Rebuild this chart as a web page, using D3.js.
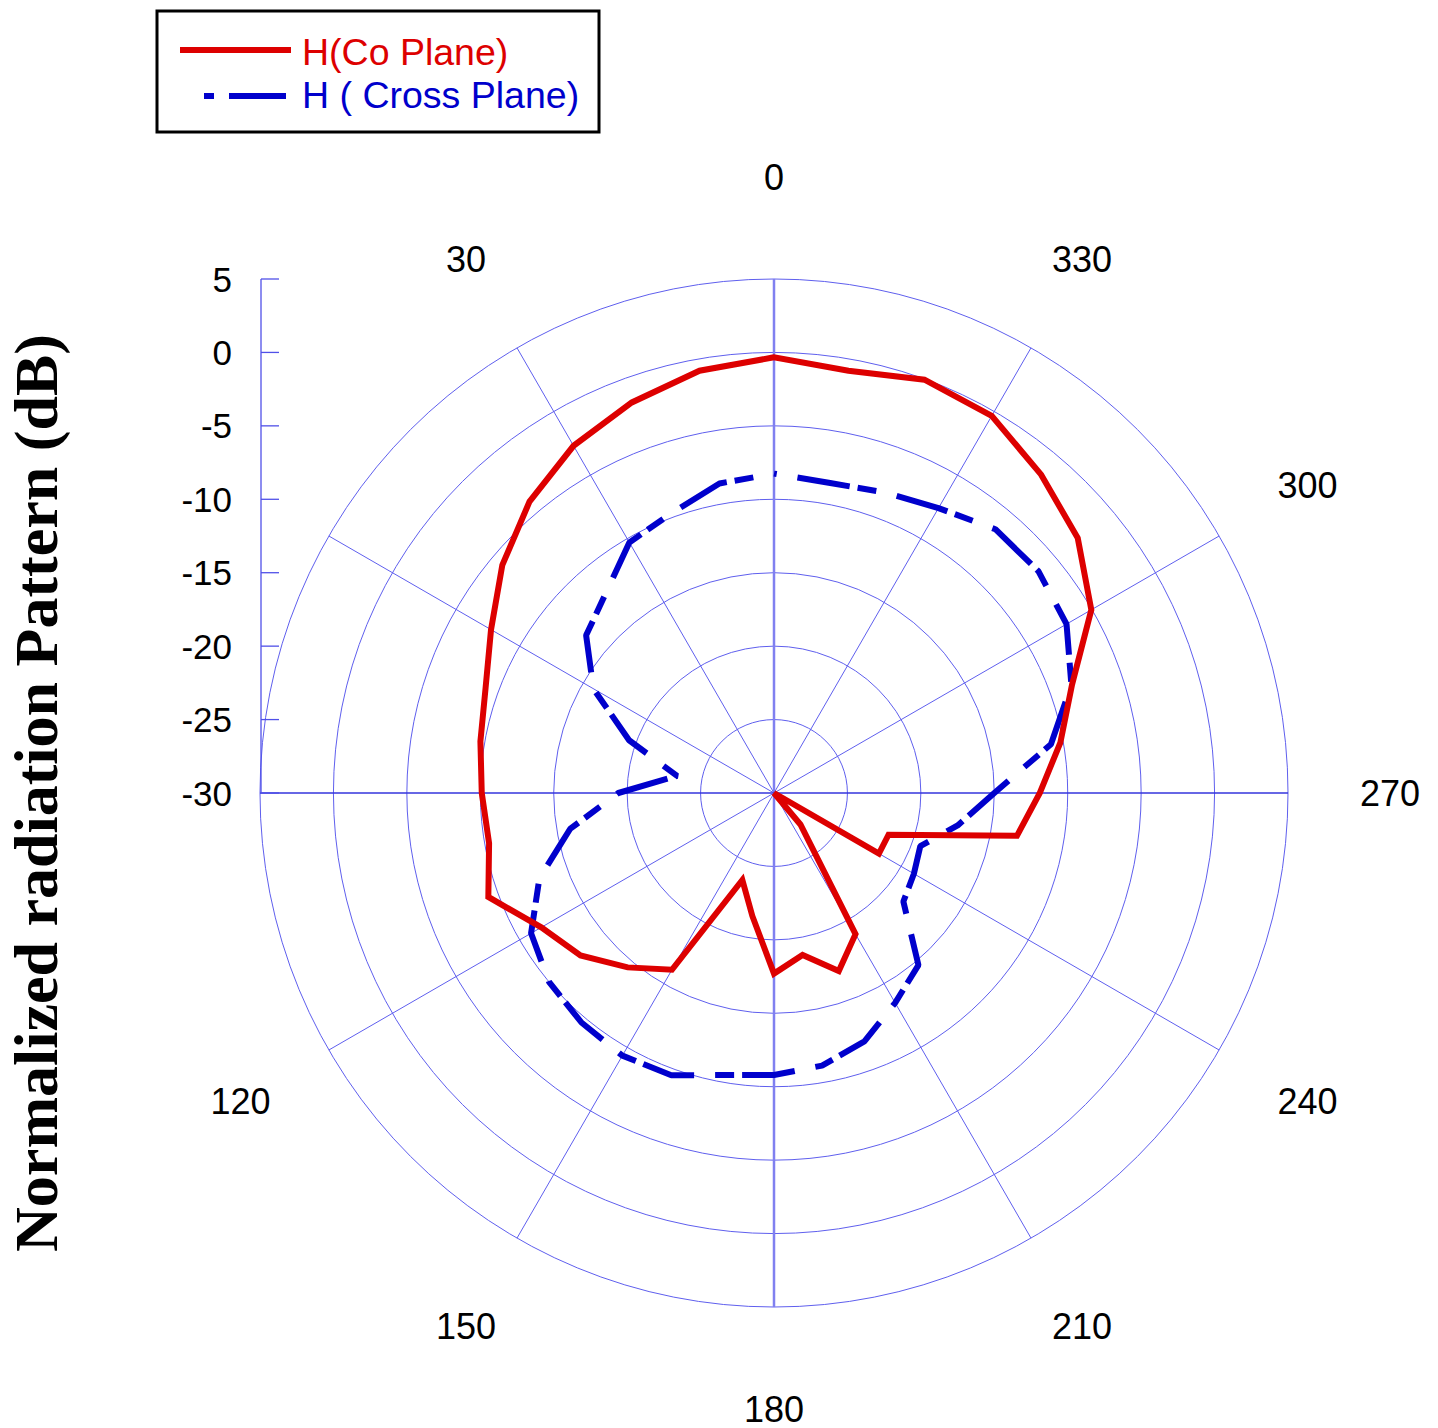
<!DOCTYPE html>
<html>
<head>
<meta charset="utf-8">
<script src="https://cdn.jsdelivr.net/npm/d3@7"></script>
<style>
  html, body { margin: 0; padding: 0; background: #ffffff; }
  svg { display: block; }
</style>
</head>
<body>
<svg id="chart" width="1438" height="1428"></svg>
<script>
// ---------------- data ----------------
const angles = [0,10,20,30,40,50,60,70,80,90,100,110,120,130,140,150,160,170,
                180,190,200,210,220,230,240,250,260,270,280,290,300,310,320,330,340,350];
const coPlane = [-0.33,-0.8,-1.7,-2.7,-4.1,-5.85,-7.75,-9.1,-9.7,-10.1,-10.3,-9.3,
                 -11.7,-12.8,-14.5,-16.1,-23.7,-21.5,-17.7,-18.8,-17.1,-18.9,-27.2,-30,
                 -21.75,-21.7,-13.2,-11.9,-10.2,-8.4,-5.05,-3.0,-1.7,-0.35,-0.05,-0.8];
const crossPlane = [-8.25,-8.6,-9.7,-10.3,-12.2,-13.3,-15.8,-19.5,-23.3,-19.4,-15.9,-13.0,
                    -10.9,-10.0,-9.6,-9.35,-9.55,-10.5,-10.8,-11.15,-12.0,-13.5,-14.7,-18.5,
                    -19.0,-19.4,-17.3,-15.0,-10.85,-8.45,-7.0,-6.5,-6.55,-7.6,-8.2,-8.55];
const radialTicks = [-30,-25,-20,-15,-10,-5,0,5];
const angleLabels = [0,30,120,150,180,210,240,270,300,330];
const spokeAngles = [0,30,60,90,120,150,180,210,240,270,300,330];
const seriesNames = ["H(Co Plane)", "H ( Cross Plane)"];
const yTitle = "Normalized radiation Pattern (dB)";

// ---------------- layout ----------------
const cx = 774, cy = 793, R = 514;
const svg = d3.select("#chart");
const r = d3.scaleLinear().domain([-30, 5]).range([0, R]).clamp(true);
const toRad = d => -d * Math.PI / 180;   // counter-clockwise from top
const g = svg.append("g").attr("transform", `translate(${cx},${cy})`);

// grid circles
g.selectAll("circle.grid").data(radialTicks.filter(t => t > -30)).enter()
  .append("circle").attr("class","grid")
  .attr("r", d => r(d)).attr("fill","none")
  .attr("stroke","#5f5fee").attr("stroke-width",1);

// spokes
spokeAngles.forEach(a => {
  const isV = (a === 0 || a === 180);
  const isH = (a === 90 || a === 270);
  const x2 = R * Math.sin(toRad(a)), y2 = -R * Math.cos(toRad(a));
  g.append("line").attr("x1",0).attr("y1",0).attr("x2",x2).attr("y2",y2)
    .attr("stroke", isV ? "#8080f0" : (isH ? "#3434dc" : "#5f5fee"))
    .attr("stroke-width", isV ? 2.5 : (isH ? 1.4 : 1));
});

// radial axis on the left
const yAxisScale = d3.scaleLinear().domain([-30,5]).range([cy, cy - R]);
const axisG = svg.append("g").attr("transform", `translate(${cx - R + 1},0)`);
axisG.append("line").attr("x1",0).attr("x2",0)
  .attr("y1", yAxisScale(-30)).attr("y2", yAxisScale(5))
  .attr("stroke","#5050e8").attr("stroke-width",1.3);
axisG.selectAll("line.tick").data(radialTicks).enter().append("line")
  .attr("x1",0).attr("x2",18)
  .attr("y1", d => yAxisScale(d)).attr("y2", d => yAxisScale(d))
  .attr("stroke","#5050e8").attr("stroke-width",1.3);
axisG.selectAll("text").data(radialTicks).enter().append("text")
  .attr("x", -29).attr("y", d => yAxisScale(d))
  .attr("text-anchor","end").attr("dominant-baseline","central")
  .style("font-family","'Liberation Sans', Arial, sans-serif").style("font-size","35px")
  .attr("fill","#000").text(d => d);

// angle labels
const LR = 616;
g.selectAll("text.ang").data(angleLabels).enter().append("text").attr("class","ang")
  .attr("x", d => LR * Math.sin(toRad(d)))
  .attr("y", d => -LR * Math.cos(toRad(d)))
  .attr("text-anchor","middle").attr("dominant-baseline","central")
  .style("font-family","'Liberation Sans', Arial, sans-serif").style("font-size","36px")
  .attr("fill","#000").text(d => d);

// series
const line = d3.lineRadial()
  .angle(d => toRad(d.a)).radius(d => r(d.v))
  .curve(d3.curveLinearClosed);
const coData = angles.map((a,i) => ({a, v: coPlane[i]}));
const crossData = angles.map((a,i) => ({a, v: crossPlane[i]}));

g.append("path").datum(crossData).attr("d", line)
  .attr("fill","none").attr("stroke","#0000cc").attr("stroke-width",6)
  .attr("stroke-dasharray","19,8,53,21").attr("stroke-dashoffset",80)
  .attr("stroke-linejoin","bevel");
g.append("path").datum(coData).attr("d", line)
  .attr("fill","none").attr("stroke","#dd0000").attr("stroke-width",6)
  .attr("stroke-linejoin","miter").attr("stroke-miterlimit",3);

// legend
const lg = svg.append("g");
lg.append("rect").attr("x",157).attr("y",11).attr("width",442).attr("height",121)
  .attr("fill","#fff").attr("stroke","#000").attr("stroke-width",3);
lg.append("line").attr("x1",180).attr("x2",291).attr("y1",50).attr("y2",50)
  .attr("stroke","#dd0000").attr("stroke-width",6);
lg.append("line").attr("x1",204).attr("x2",286).attr("y1",96).attr("y2",96)
  .attr("stroke","#0000cc").attr("stroke-width",6).attr("stroke-dasharray","10,15,57");
lg.append("text").attr("x",302).attr("y",65)
  .style("font-family","'Liberation Sans', Arial, sans-serif").style("font-size","37.5px")
  .attr("fill","#dd0000").text(seriesNames[0]);
lg.append("text").attr("x",302).attr("y",108)
  .style("font-family","'Liberation Sans', Arial, sans-serif").style("font-size","37.5px")
  .attr("fill","#0000cc").text(seriesNames[1]);

// y title
svg.append("text").attr("transform","translate(57,793) rotate(-90)")
  .attr("text-anchor","middle")
  .style("font-family","'Liberation Serif', 'Times New Roman', serif")
  .style("font-weight","bold").style("font-size","62px")
  .attr("fill","#000").text(yTitle);
</script>
</body>
</html>
